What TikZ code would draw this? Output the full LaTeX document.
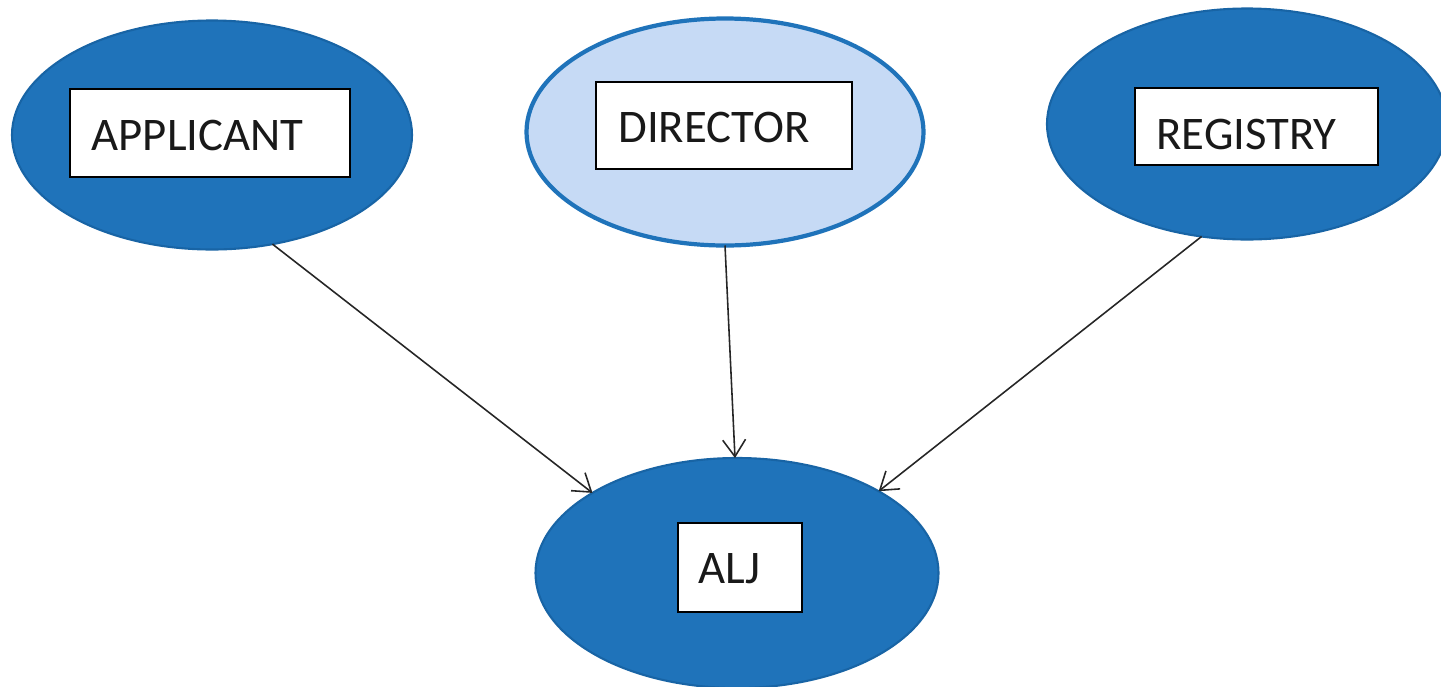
\documentclass[tikz,border=0pt]{standalone}
\usepackage{fontspec}
\setmainfont{Carlito}
\usetikzlibrary{shapes.geometric,arrows.meta}
\definecolor{darkblue}{RGB}{31,115,186}
\definecolor{edgeblue}{RGB}{24,100,165}
\definecolor{lightblue}{RGB}{198,218,245}
\tikzset{
  darkell/.style={ellipse, fill=darkblue, draw=edgeblue, line width=0.6pt, inner sep=0pt, outer sep=0pt},
  lightell/.style={ellipse, fill=lightblue, draw=darkblue, line width=1.2pt, inner sep=0pt, outer sep=0pt},
  labelbox/.style={rectangle, fill=white, draw=black, line width=0.6pt, inner sep=0pt, outer sep=0pt},
  labeltext/.style={anchor=base, inner sep=0pt, font=\fontsize{13.3}{16}\selectfont, text=black!90},
  flow/.style={draw=black!85, line width=0.45pt, -{Straight Barb[length=4.8pt,width=6.5pt,line width=0.45pt]}}
}
\begin{document}
\begin{tikzpicture}
\useasboundingbox (0,0) rectangle (14.41,6.86);
% ellipses
\node[darkell, minimum width=4.0cm, minimum height=2.29cm] (app) at (2.12,5.51) {};
\node[lightell, minimum width=3.97cm, minimum height=2.27cm] (dir) at (7.25,5.54) {};
\node[darkell, minimum width=4.0cm, minimum height=2.31cm] (reg) at (12.47,5.62) {};
\node[darkell, minimum width=4.03cm, minimum height=2.30cm] (alj) at (7.37,1.13) {};
% label boxes
\node[labelbox, minimum width=2.80cm, minimum height=0.88cm] (appbox) at (2.10,5.53) {};
\node[labelbox, minimum width=2.56cm, minimum height=0.87cm] (dirbox) at (7.24,5.605) {};
\node[labelbox, minimum width=2.43cm, minimum height=0.77cm] (regbox) at (12.565,5.595) {};
\node[labelbox, minimum width=1.24cm, minimum height=0.89cm] (aljbox) at (7.40,1.185) {};
% texts
\node[labeltext] (apptext) at (1.975,5.36) {APPLICANT};
\node[labeltext] (dirtext) at (7.14,5.44) {DIRECTOR};
\node[labeltext] (regtext) at (12.465,5.37) {REGISTRY};
\node[labeltext] (aljtext) at (7.295,1.03) {ALJ};
% connectors
\draw[flow] (app.-61) -- (alj.151);
\draw[flow] (dir.-90) -- (alj.91.5);
\draw[flow] (reg.-112) -- (alj.30.5);
\end{tikzpicture}
\end{document}
